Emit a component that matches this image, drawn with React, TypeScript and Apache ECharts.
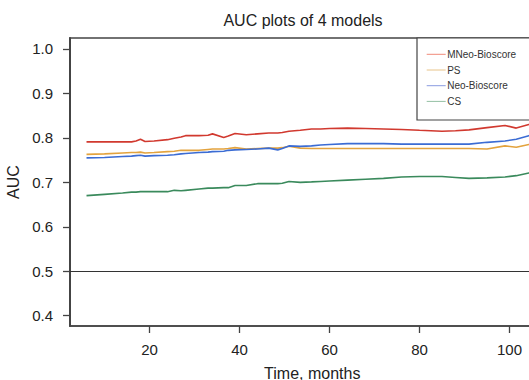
import React, { useEffect, useRef } from "react";
import * as echarts from "echarts";

const months = [6, 10, 14, 16, 17, 18, 19, 21, 24, 25.5, 27, 28, 31, 33, 34, 36.5, 37.5, 39, 41.5, 44, 46.5, 48.5, 49.5, 51, 53.5, 56, 58, 60, 64, 68, 72, 76, 80, 85, 88, 91, 95, 99, 101.5, 104.3, 107];
const mneo = [0.791, 0.791, 0.791, 0.791, 0.793, 0.797, 0.792, 0.793, 0.796, 0.799, 0.802, 0.805, 0.805, 0.806, 0.809, 0.801, 0.804, 0.810, 0.807, 0.809, 0.811, 0.811, 0.812, 0.815, 0.817, 0.820, 0.820, 0.821, 0.822, 0.821, 0.820, 0.819, 0.817, 0.815, 0.816, 0.818, 0.823, 0.828, 0.822, 0.830, 0.836];
const ps = [0.763, 0.764, 0.766, 0.767, 0.767, 0.768, 0.766, 0.767, 0.769, 0.770, 0.772, 0.772, 0.772, 0.774, 0.775, 0.775, 0.776, 0.778, 0.775, 0.776, 0.777, 0.777, 0.778, 0.781, 0.777, 0.776, 0.776, 0.776, 0.776, 0.776, 0.776, 0.776, 0.776, 0.776, 0.776, 0.776, 0.775, 0.782, 0.779, 0.785, 0.789];
const neo = [0.755, 0.756, 0.758, 0.759, 0.760, 0.761, 0.759, 0.760, 0.761, 0.762, 0.764, 0.765, 0.767, 0.768, 0.769, 0.770, 0.772, 0.773, 0.774, 0.775, 0.777, 0.773, 0.776, 0.782, 0.781, 0.782, 0.784, 0.785, 0.787, 0.787, 0.787, 0.786, 0.786, 0.786, 0.786, 0.786, 0.790, 0.793, 0.797, 0.805, 0.812];
const cs = [0.670, 0.673, 0.676, 0.678, 0.678, 0.679, 0.679, 0.679, 0.679, 0.682, 0.681, 0.682, 0.685, 0.687, 0.687, 0.688, 0.688, 0.693, 0.693, 0.697, 0.697, 0.697, 0.698, 0.702, 0.700, 0.701, 0.702, 0.703, 0.705, 0.707, 0.709, 0.712, 0.713, 0.713, 0.711, 0.709, 0.710, 0.712, 0.715, 0.721, 0.726];

const seriesNames = ["MNeo-Bioscore", "PS", "Neo-Bioscore", "CS"];
const seriesValues = [mneo, ps, neo, cs];
const lineColors = ["#d1392f", "#e3a33e", "#3b6cd4", "#3a8a5c"];
const legendColors = ["#f08a7a", "#e8c48a", "#8a9ce0", "#94c0a4"];
const xTicks = [20, 40, 60, 80, 100];
const yTicks = [0.4, 0.5, 0.6, 0.7, 0.8, 0.9, 1.0];
const refLine = 0.5;

const FONT = "'Liberation Sans', Arial, Helvetica, sans-serif";

export default function App() {
  const ref = useRef<HTMLDivElement>(null);
  useEffect(() => {
    if (!ref.current) return;
    const chart = echarts.init(ref.current, null, { renderer: "svg" });
    const series: any[] = seriesNames.map((name, i) => ({
      name,
      type: "line",
      symbol: "none",
      data: months.map((m, j) => [m, seriesValues[i][j]]),
      lineStyle: { color: lineColors[i], width: 1.6 },
      itemStyle: { color: lineColors[i] },
      z: 3,
    }));
    series[0].markLine = {
      silent: true,
      symbol: "none",
      label: { show: false },
      lineStyle: { color: "#333", width: 1.2, type: "solid" },
      data: [{ yAxis: refLine }],
      z: 2,
    };
    const legendX = 426.7;
    const legendY0 = 54.3;
    const legendStep = 15.7;
    const legendGraphics: any[] = [];
    seriesNames.forEach((n, i) => {
      const y = legendY0 + i * legendStep;
      legendGraphics.push({
        type: "line",
        shape: { x1: legendX, y1: y, x2: legendX + 19, y2: y },
        style: { stroke: legendColors[i], lineWidth: 1 },
        z: 11,
      });
      legendGraphics.push({
        type: "text",
        x: legendX + 20.5,
        y,
        style: { text: n, fontSize: 10, fill: "#333", fontFamily: FONT, textVerticalAlign: "middle", verticalAlign: "middle" },
        z: 11,
      });
    });
    chart.setOption({
      animation: false,
      backgroundColor: "#fff",
      textStyle: { fontFamily: FONT },
      title: {
        text: "AUC plots of 4 models",
        left: 303,
        top: 12,
        padding: 0,
        textAlign: "center",
        textStyle: { fontSize: 16, fontWeight: "normal", color: "#222", fontFamily: FONT },
      },
      grid: {
        left: 70,
        top: 38,
        bottom: 54,
        width: 484.5,
        show: true,
        borderColor: "#444",
        borderWidth: 1.5,
        outerBoundsMode: "none",
        containLabel: false,
      },
      graphic: [
        {
          type: "rect",
          shape: { x: 417, y: 38, width: 200, height: 82 },
          style: { fill: "#fff", stroke: "#444", lineWidth: 1.2 },
          z: 10,
        },
        ...legendGraphics,
      ],
      xAxis: {
        type: "value",
        min: 2.33,
        max: 110,
        name: "Time, months",
        nameLocation: "middle",
        nameGap: 39,
        nameTextStyle: { fontSize: 16, color: "#222", fontFamily: FONT },
        axisLine: { show: true, lineStyle: { color: "#444", width: 1.5 } },
        axisTick: { show: true, length: 7, customValues: xTicks, lineStyle: { color: "#444", width: 1.3 } },
        axisLabel: { customValues: xTicks, margin: 16, fontSize: 15, color: "#222", fontFamily: FONT },
        splitLine: { show: false },
      },
      yAxis: {
        type: "value",
        min: 0.3768,
        max: 1.0247,
        name: "AUC",
        nameLocation: "middle",
        nameRotate: 90,
        nameGap: 47,
        nameTextStyle: { fontSize: 16, color: "#222", fontFamily: FONT },
        axisLine: { show: true, lineStyle: { color: "#444", width: 2 } },
        axisTick: { show: true, length: 7, customValues: yTicks, lineStyle: { color: "#444", width: 1.3 } },
        axisLabel: {
          customValues: yTicks,
          margin: 17,
          fontSize: 15,
          color: "#222",
          fontFamily: FONT,
          formatter: (v: number) => v.toFixed(1),
        },
        splitLine: { show: false },
      },
      series,
    });
    return () => chart.dispose();
  }, []);
  return <div ref={ref} style={{ width: 529, height: 380, position: "fixed", left: 0, top: 0 }} />;
}
